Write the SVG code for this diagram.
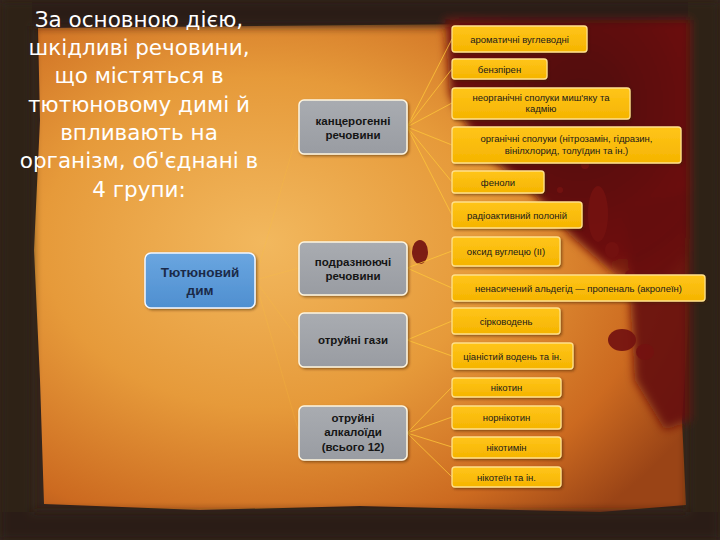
<svg xmlns="http://www.w3.org/2000/svg" width="720" height="540" viewBox="0 0 720 540">
  <defs>
    <radialGradient id="parch" cx="0.35" cy="0.45" r="0.75">
      <stop offset="0" stop-color="#f2b85e"/>
      <stop offset="0.45" stop-color="#e69a3a"/>
      <stop offset="0.8" stop-color="#cc6a20"/>
      <stop offset="1" stop-color="#9a4416"/>
    </radialGradient>
    <radialGradient id="blood" cx="0.55" cy="0.3" r="0.75">
      <stop offset="0" stop-color="#4e0808"/>
      <stop offset="0.75" stop-color="#6e100e"/>
      <stop offset="1" stop-color="#8a2a16" stop-opacity="0.6"/>
    </radialGradient>
    <linearGradient id="gray" x1="0" y1="0" x2="0" y2="1">
      <stop offset="0" stop-color="#a9acb1"/>
      <stop offset="1" stop-color="#999ca2"/>
    </linearGradient>
    <linearGradient id="blue" x1="0" y1="0" x2="0" y2="1">
      <stop offset="0" stop-color="#6aa6e0"/>
      <stop offset="1" stop-color="#4f8fd0"/>
    </linearGradient>
    <linearGradient id="yel" x1="0" y1="0" x2="0" y2="1">
      <stop offset="0" stop-color="#ffc51a"/>
      <stop offset="1" stop-color="#f5b400"/>
    </linearGradient>
    <filter id="sh" x="-10%" y="-20%" width="125%" height="150%">
      <feDropShadow dx="1.5" dy="1.5" stdDeviation="1.2" flood-color="#3a1a00" flood-opacity="0.5"/>
    </filter>
    <filter id="blur"><feGaussianBlur stdDeviation="5"/></filter>
  </defs>
  <style>
    .title{font-family:"DejaVu Sans","Liberation Sans",sans-serif;font-size:21.5px;fill:#ffffff;text-anchor:middle}
    .g rect{fill:url(#gray);stroke:#fff6e0;stroke-width:1.5;filter:url(#sh)}
    .g text{font-family:"Liberation Sans",Arial,sans-serif;font-size:11.5px;font-weight:bold;fill:#151515;text-anchor:middle}
    .y rect{fill:url(#yel);stroke:#ffe08a;stroke-width:1.3;filter:url(#sh)}
    .y text{font-family:"Liberation Sans",Arial,sans-serif;font-size:9.5px;fill:#1a1a1a;text-anchor:middle}
    .b rect{fill:url(#blue);stroke:#f4f8ff;stroke-width:1.5;filter:url(#sh)}
    .b text{font-family:"Liberation Sans",Arial,sans-serif;font-size:13.5px;font-weight:bold;fill:#1b2a48;text-anchor:middle}
    .c line{stroke:#ffc83a;stroke-width:1;stroke-opacity:0.75}
    .c .f{stroke-opacity:0.18}
  </style>

  <!-- background -->
  <rect x="0" y="0" width="720" height="540" fill="#34251c"/>
  <path d="M38 28 L690 22 L684 120 L690 300 L682 420 L686 505 L600 512 L360 506 L200 510 L44 504 L40 380 L34 250 L40 120 Z" fill="url(#parch)"/>
  <g filter="url(#blur)">
    <path d="M0 0 H720 V26 H0 Z" fill="#2c1a14"/>
    <path d="M0 0 H32 V540 H0 Z" fill="#2e2018"/>
    <path d="M688 0 H720 V540 H688 Z" fill="#2e2018"/>
    <path d="M0 512 H720 V540 H0 Z" fill="#2a1d16"/>
    <path d="M445 20 L690 20 L690 250 L650 300 L610 270 L570 235 L530 190 L480 150 L450 95 Z" fill="url(#blood)"/>
    <path d="M625 210 L690 190 L690 420 L665 430 L635 380 Z" fill="#65110e" opacity="0.9"/>
  </g>
  <g fill="#741210" opacity="0.92">
    <ellipse cx="598" cy="214" rx="10" ry="28"/>
    <ellipse cx="612" cy="250" rx="7" ry="8"/>
    <circle cx="630" cy="275" r="5"/>
    <circle cx="645" cy="300" r="4"/>
    <ellipse cx="622" cy="340" rx="14" ry="11"/>
    <ellipse cx="645" cy="352" rx="9" ry="8"/>
    <ellipse cx="420" cy="252" rx="8" ry="12"/>
    <ellipse cx="505" cy="140" rx="18" ry="12"/>
    <circle cx="585" cy="165" r="4"/>
    <circle cx="560" cy="190" r="3"/>
  </g>

  <!-- title -->
  <g id="title">
    <text class="title" x="139" y="27">За основною дією,</text>
    <text class="title" x="139" y="55">шкідливі речовини,</text>
    <text class="title" x="139" y="83">що містяться в</text>
    <text class="title" x="139" y="112">тютюновому димі й</text>
    <text class="title" x="139" y="140">впливають на</text>
    <text class="title" x="139" y="168">організм, об'єднані в</text>
    <text class="title" x="139" y="197">4 групи:</text>
  </g>

  <!-- connectors -->
  <g id="connectors" class="c">
    <line class="f" x1="255" y1="280" x2="299" y2="127"/>
    <line class="f" x1="255" y1="280" x2="299" y2="268"/>
    <line class="f" x1="255" y1="280" x2="299" y2="340"/>
    <line class="f" x1="255" y1="280" x2="299" y2="433"/>
    <line x1="407" y1="127" x2="452" y2="39"/>
    <line x1="407" y1="127" x2="452" y2="69"/>
    <line x1="407" y1="127" x2="452" y2="103"/>
    <line x1="407" y1="127" x2="452" y2="145"/>
    <line x1="407" y1="127" x2="452" y2="182"/>
    <line x1="407" y1="127" x2="452" y2="215"/>
    <line x1="407" y1="268" x2="452" y2="251"/>
    <line x1="407" y1="268" x2="452" y2="288"/>
    <line x1="407" y1="340" x2="452" y2="321"/>
    <line x1="407" y1="340" x2="452" y2="356"/>
    <line x1="407" y1="433" x2="452" y2="387"/>
    <line x1="407" y1="433" x2="452" y2="417"/>
    <line x1="407" y1="433" x2="452" y2="447"/>
    <line x1="407" y1="433" x2="452" y2="477"/>
  </g>

  <!-- root -->
  <g id="n-smoke" class="b">
    <rect x="145" y="253" width="110" height="55" rx="6"/>
    <text x="200" y="277">Тютюновий</text>
    <text x="200" y="295">дим</text>
  </g>

  <!-- groups -->
  <g id="n-carcinogens" class="g">
    <rect x="299" y="100" width="108" height="54" rx="5"/>
    <text x="353" y="125">канцерогенні</text>
    <text x="353" y="139">речовини</text>
  </g>
  <g id="n-irritants" class="g">
    <rect x="299" y="242" width="108" height="53" rx="5"/>
    <text x="353" y="266">подразнюючі</text>
    <text x="353" y="280">речовини</text>
  </g>
  <g id="n-gases" class="g">
    <rect x="299" y="313" width="108" height="54" rx="5"/>
    <text x="353" y="344">отруйні гази</text>
  </g>
  <g id="n-alkaloids" class="g">
    <rect x="299" y="406" width="108" height="54" rx="5"/>
    <text x="353" y="422">отруйні</text>
    <text x="353" y="436">алкалоїди</text>
    <text x="353" y="451">(всього 12)</text>
  </g>

  <!-- leaves -->
  <g id="n-aromatic" class="y">
    <rect x="452" y="26" width="135" height="26" rx="3"/>
    <text x="519.5" y="42.5">ароматичні вуглеводні</text>
  </g>
  <g id="n-benzpyrene" class="y">
    <rect x="452" y="59" width="95" height="20" rx="3"/>
    <text x="499.5" y="72.5">бензпірен</text>
  </g>
  <g id="n-inorganic" class="y">
    <rect x="452" y="88" width="178" height="31" rx="3"/>
    <text x="541" y="101">неорганічні сполуки миш'яку та</text>
    <text x="541" y="112">кадмію</text>
  </g>
  <g id="n-organic" class="y">
    <rect x="452" y="127" width="229" height="36" rx="3"/>
    <text x="566.5" y="142">органічні сполуки (нітрозамін, гідразин,</text>
    <text x="566.5" y="153.5">вінілхлорид, толуїдин та ін.)</text>
  </g>
  <g id="n-phenols" class="y">
    <rect x="452" y="171" width="92" height="22" rx="3"/>
    <text x="498" y="185.5">феноли</text>
  </g>
  <g id="n-polonium" class="y">
    <rect x="452" y="202" width="130" height="26" rx="3"/>
    <text x="517" y="218.5">радіоактивний полоній</text>
  </g>
  <g id="n-co" class="y">
    <rect x="452" y="237" width="108" height="29" rx="3"/>
    <text x="506" y="255">оксид вуглецю (II)</text>
  </g>
  <g id="n-acrolein" class="y">
    <rect x="452" y="275" width="253" height="26" rx="3"/>
    <text x="578.5" y="291.5">ненасичений альдегід — пропеналь (акролеїн)</text>
  </g>
  <g id="n-h2s" class="y">
    <rect x="452" y="308" width="108" height="26" rx="3"/>
    <text x="506" y="324.5">сірководень</text>
  </g>
  <g id="n-hcn" class="y">
    <rect x="452" y="343" width="121" height="26" rx="3"/>
    <text x="512.5" y="359.5">ціаністий водень та ін.</text>
  </g>
  <g id="n-nicotine" class="y">
    <rect x="452" y="378" width="109" height="19" rx="3"/>
    <text x="506.5" y="391">нікотин</text>
  </g>
  <g id="n-nornicotine" class="y">
    <rect x="452" y="406" width="109" height="23" rx="3"/>
    <text x="506.5" y="421">норнікотин</text>
  </g>
  <g id="n-nicotimine" class="y">
    <rect x="452" y="437" width="109" height="21" rx="3"/>
    <text x="506.5" y="451">нікотимін</text>
  </g>
  <g id="n-nicoteine" class="y">
    <rect x="452" y="467" width="109" height="20" rx="3"/>
    <text x="506.5" y="480.5">нікотеїн та ін.</text>
  </g>
</svg>
